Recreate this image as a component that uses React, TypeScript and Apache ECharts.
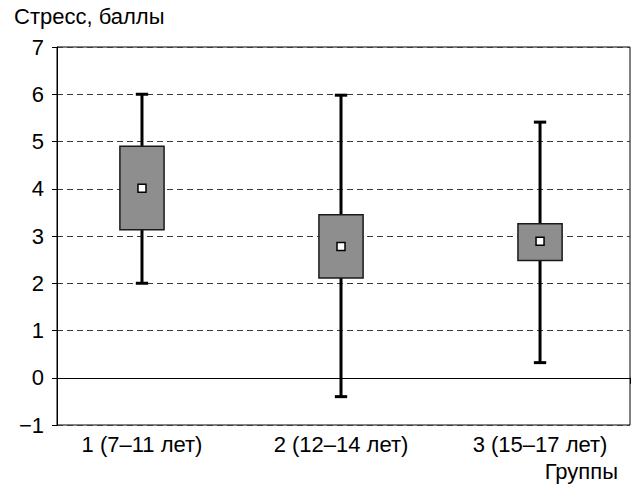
import React, { useEffect, useRef } from "react";
import * as echarts from "echarts";

const categories = ["1 (7–11 лет)", "2 (12–14 лет)", "3 (15–17 лет)"];
const positions = [1, 2, 3];
const whiskerLow = [2.0, -0.4, 0.32];
const q1 = [3.13, 2.11, 2.48];
const median = [4.01, 2.78, 2.89];
const q3 = [4.9, 3.45, 3.26];
const whiskerHigh = [6.0, 5.98, 5.41];
const yMin = -1;
const yMax = 7;
const xMin = 0.573;
const xMax = 3.452;
const yTitle = "Стресс, баллы";
const xTitle = "Группы";

const FONT = "'Liberation Sans', Arial, Helvetica, sans-serif";

export default function App() {
  const ref = useRef<HTMLDivElement>(null);
  useEffect(() => {
    if (!ref.current) return;
    const chart = echarts.init(ref.current, undefined, { renderer: "svg" });
    const data = positions.map((p, i) => [p, whiskerLow[i], q1[i], median[i], q3[i], whiskerHigh[i]]);
    chart.setOption({
      animation: false,
      backgroundColor: "#fff",
      grid: {
        left: 57,
        right: 11,
        top: 47,
        bottom: 68,
        show: true,
        borderColor: "#000",
        borderWidth: 1,
        backgroundColor: "transparent",
      },
      xAxis: {
        type: "value",
        min: xMin,
        max: xMax,
        axisLine: { show: true, lineStyle: { color: "#000", width: 1 } },
        axisTick: {
          show: true,
          length: 6,
          customValues: [xMin, xMax],
          lineStyle: { color: "#000", width: 1 },
        },
        axisLabel: {
          show: true,
          customValues: positions,
          formatter: (v: number) => {
            const idx = positions.indexOf(Math.round(v));
            return idx >= 0 ? categories[idx] : "";
          },
          fontSize: 22,
          fontFamily: FONT,
          color: "#000",
          margin: 8,
        },
        splitLine: { show: false },
      },
      yAxis: {
        type: "value",
        min: yMin,
        max: yMax,
        interval: 1,
        axisLine: { show: true, lineStyle: { color: "#000", width: 1 } },
        axisTick: { show: true, length: 5, lineStyle: { color: "#000", width: 1 } },
        axisLabel: {
          fontSize: 22,
          fontFamily: FONT,
          color: "#000",
          margin: 13,
          formatter: (v: number) => (v < 0 ? "−" + Math.abs(v) : String(v)),
        },
        splitLine: {
          show: true,
          lineStyle: { color: "#3a3a3a", width: 1, type: [6, 4] },
        },
      },
      graphic: [
        {
          type: "text",
          left: 14,
          top: 5,
          style: { text: yTitle, fontSize: 22, fontFamily: FONT, fill: "#000" },
        },
        {
          type: "text",
          right: 23,
          top: 460,
          style: { text: xTitle, fontSize: 22, fontFamily: FONT, fill: "#000" },
        },
      ],
      series: [
        {
          type: "line",
          data: [],
          z: 1,
          markLine: {
            silent: true,
            symbol: "none",
            label: { show: false },
            lineStyle: { color: "#000", width: 1, type: "solid" },
            data: [{ yAxis: 0 }],
          },
        },
        {
          type: "custom",
          z: 3,
          data,
          renderItem: (params: any, api: any) => {
            const x = api.value(0);
            const lo = api.coord([x, api.value(1)]);
            const b1 = api.coord([x, api.value(2)]);
            const md = api.coord([x, api.value(3)]);
            const b3 = api.coord([x, api.value(4)]);
            const hi = api.coord([x, api.value(5)]);
            const boxW = api.size([0.222, 0])[0];
            const capW = api.size([0.062, 0])[0];
            const cx = lo[0];
            const m = 4;
            return {
              type: "group",
              children: [
                {
                  type: "line",
                  shape: { x1: cx, y1: lo[1], x2: cx, y2: hi[1] },
                  style: { stroke: "#000", lineWidth: 3 },
                },
                {
                  type: "line",
                  shape: { x1: cx - capW / 2, y1: lo[1], x2: cx + capW / 2, y2: lo[1] },
                  style: { stroke: "#000", lineWidth: 3 },
                },
                {
                  type: "line",
                  shape: { x1: cx - capW / 2, y1: hi[1], x2: cx + capW / 2, y2: hi[1] },
                  style: { stroke: "#000", lineWidth: 3 },
                },
                {
                  type: "rect",
                  shape: { x: cx - boxW / 2, y: b3[1], width: boxW, height: b1[1] - b3[1] },
                  style: { fill: "#8e8e8e", stroke: "#1a1a1a", lineWidth: 1.5 },
                },
                {
                  type: "rect",
                  shape: { x: cx - m, y: md[1] - m, width: 2 * m, height: 2 * m },
                  style: { fill: "#fff", stroke: "#000", lineWidth: 1.5 },
                },
              ],
            };
          },
        },
      ],
    });
    return () => chart.dispose();
  }, []);
  return (
    <div
      ref={ref}
      style={{ position: "fixed", left: 0, top: 0, width: 641, height: 493 }}
    />
  );
}
